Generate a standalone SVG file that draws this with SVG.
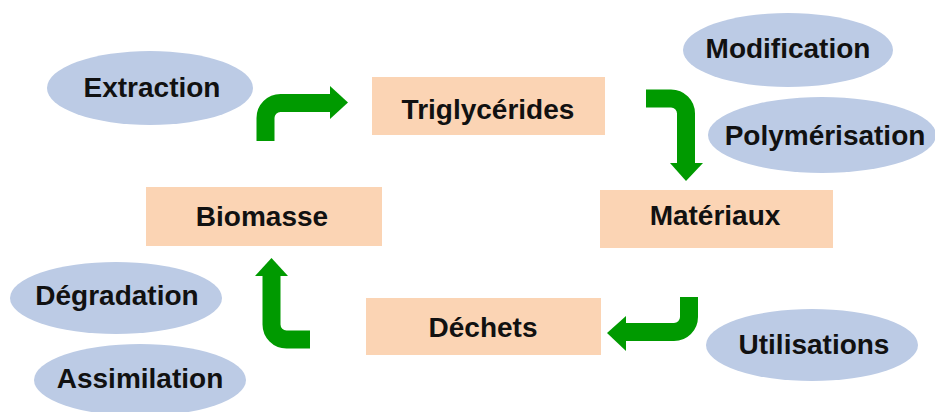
<svg xmlns="http://www.w3.org/2000/svg" width="935" height="412" viewBox="0 0 935 412">
<style>
.box{fill:#fbd4b4;}
.ell{fill:#bccbe5;}
.t{font-family:"Liberation Sans",Arial,sans-serif;font-weight:bold;font-size:28px;fill:#111;text-anchor:middle;}
.arr{fill:none;stroke:#009a00;stroke-width:18;}
.head{fill:#009a00;}
</style>
<rect width="935" height="412" fill="#ffffff"/>
<g id="connectors">
<path class="arr" d="M265.5,141 V118 A15,15 0 0 1 280.5,103 H331"/>
<polygon class="head" points="330,86 348,102.5 330,119"/>
<path class="arr" d="M646,98.5 H671 A15,15 0 0 1 686,113.5 V164"/>
<polygon class="head" points="670,163 703,163 686,181"/>
<path class="arr" d="M689,297 V317 A15,15 0 0 1 674,332 H624"/>
<polygon class="head" points="626,316 607,333 626,351"/>
<path class="arr" d="M310,339.5 H286.5 A15,15 0 0 1 271.5,324.5 V275"/>
<polygon class="head" points="255,276 288,276 271.5,258"/>
</g>
<g id="triglycerides"><rect class="box" x="372" y="77" width="233" height="58"/><text class="t" x="488" y="119">Triglycérides</text></g>
<g id="biomasse"><rect class="box" x="146" y="187" width="236" height="59"/><text class="t" x="262" y="226">Biomasse</text></g>
<g id="materiaux"><rect class="box" x="600" y="190" width="233" height="58"/><text class="t" x="715" y="225">Matériaux</text></g>
<g id="dechets"><rect class="box" x="366" y="298" width="235" height="57"/><text class="t" x="483" y="337">Déchets</text></g>
<g id="extraction"><ellipse class="ell" cx="150" cy="88" rx="103" ry="37"/><text class="t" x="152" y="97">Extraction</text></g>
<g id="modification"><ellipse class="ell" cx="788" cy="50" rx="105" ry="37"/><text class="t" x="788" y="58">Modification</text></g>
<g id="polymerisation"><ellipse class="ell" cx="822" cy="135" rx="114" ry="38"/><text class="t" x="825" y="145">Polymérisation</text></g>
<g id="degradation"><ellipse class="ell" cx="116" cy="298" rx="106" ry="36"/><text class="t" x="117" y="305">Dégradation</text></g>
<g id="assimilation"><ellipse class="ell" cx="140" cy="380" rx="106" ry="36"/><text class="t" x="140" y="388">Assimilation</text></g>
<g id="utilisations"><ellipse class="ell" cx="812" cy="345" rx="106" ry="36"/><text class="t" x="814" y="354">Utilisations</text></g>
</svg>
